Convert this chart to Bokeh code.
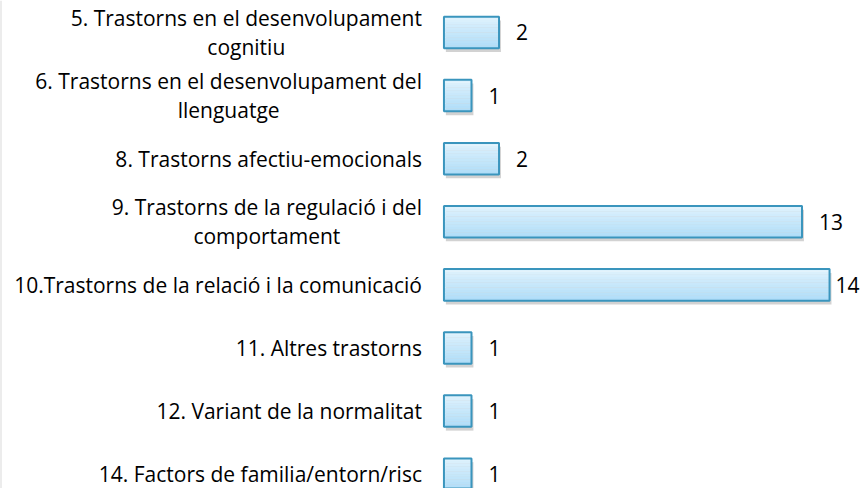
from bokeh.plotting import figure
from bokeh.models import ColumnDataSource, Range1d, Span
from bokeh.embed import file_html
from bokeh.resources import INLINE
from bokeh.core.properties import value

categories = [
    "5. Trastorns en el desenvolupament\ncognitiu",
    "6. Trastorns en el desenvolupament del\nllenguatge",
    "8. Trastorns afectiu-emocionals",
    "9. Trastorns de la regulació i del\ncomportament",
    "10.Trastorns de la relació i la comunicació",
    "11. Altres trastorns",
    "12. Variant de la normalitat",
    "14. Factors de familia/entorn/risc",
]
values = [2, 1, 2, 13, 14, 1, 1, 1]

FONT = "Open Sans"
FS = "21px"
W, H = 861, 488
x_lo, x_hi = -16.1, 15.16
y_lo, y_hi = 7.227, -0.507
px_per_unit = W / (x_hi - x_lo)
bar_h = 0.5

rows = list(range(len(categories)))

p = figure(width=W, height=H, output_backend="svg", toolbar_location=None,
           x_range=Range1d(x_lo, x_hi), y_range=Range1d(y_lo, y_hi),
           min_border=0, min_border_left=0, min_border_right=0,
           min_border_top=0, min_border_bottom=0)
p.xaxis.visible = False
p.yaxis.visible = False
p.xgrid.visible = False
p.ygrid.visible = False
p.outline_line_color = None
p.background_fill_color = "white"
p.border_fill_color = "white"

# left border line
p.add_layout(Span(location=x_lo, dimension="height", line_color="#d9d9d9", line_width=2))

# shadow
p.hbar(y=[r + 0.06 for r in rows], left=0.07, right=[v + 0.07 for v in values],
       height=bar_h, fill_color="#7f7f7f", fill_alpha=0.35, line_color=None)

# gradient fill via strips
top_c = (0xe0, 0xf3, 0xfd)
bot_c = (0xae, 0xdc, 0xf8)
n = 12
for k in range(n):
    t = (k + 0.5) / n
    c = tuple(int(round(top_c[i] + (bot_c[i] - top_c[i]) * t)) for i in range(3))
    col = "#%02x%02x%02x" % c
    yc = [r - bar_h / 2 + bar_h * (k + 0.5) / n for r in rows]
    p.hbar(y=yc, left=0, right=values, height=bar_h / n * 1.05,
           fill_color=col, line_color=None)

# outline
p.hbar(y=rows, left=0, right=values, height=bar_h, fill_color=None,
       line_color="#3a95bd", line_width=2)

# category labels
p.text(x=[0] * len(rows), y=rows, text=categories, x_offset=-22,
       text_align="center", anchor="center_right", text_baseline="middle",
       text_font=value(FONT), text_font_size=FS, text_color="#000000",
       text_line_height=1.05)

# value labels
labels = [str(v) for v in values]
offs = []
for v, s in zip(values, labels):
    avail = (x_hi - v) * px_per_unit - 12 * len(s) - 2
    offs.append(min(17, avail))
src = ColumnDataSource(dict(x=values, y=rows, t=labels, off=offs))
p.text(x="x", y="y", text="t", x_offset="off", source=src,
       text_align="left", text_baseline="middle",
       text_font=value(FONT), text_font_size=FS, text_color="#000000")

open("out.html", "w").write(file_html(p, INLINE))
